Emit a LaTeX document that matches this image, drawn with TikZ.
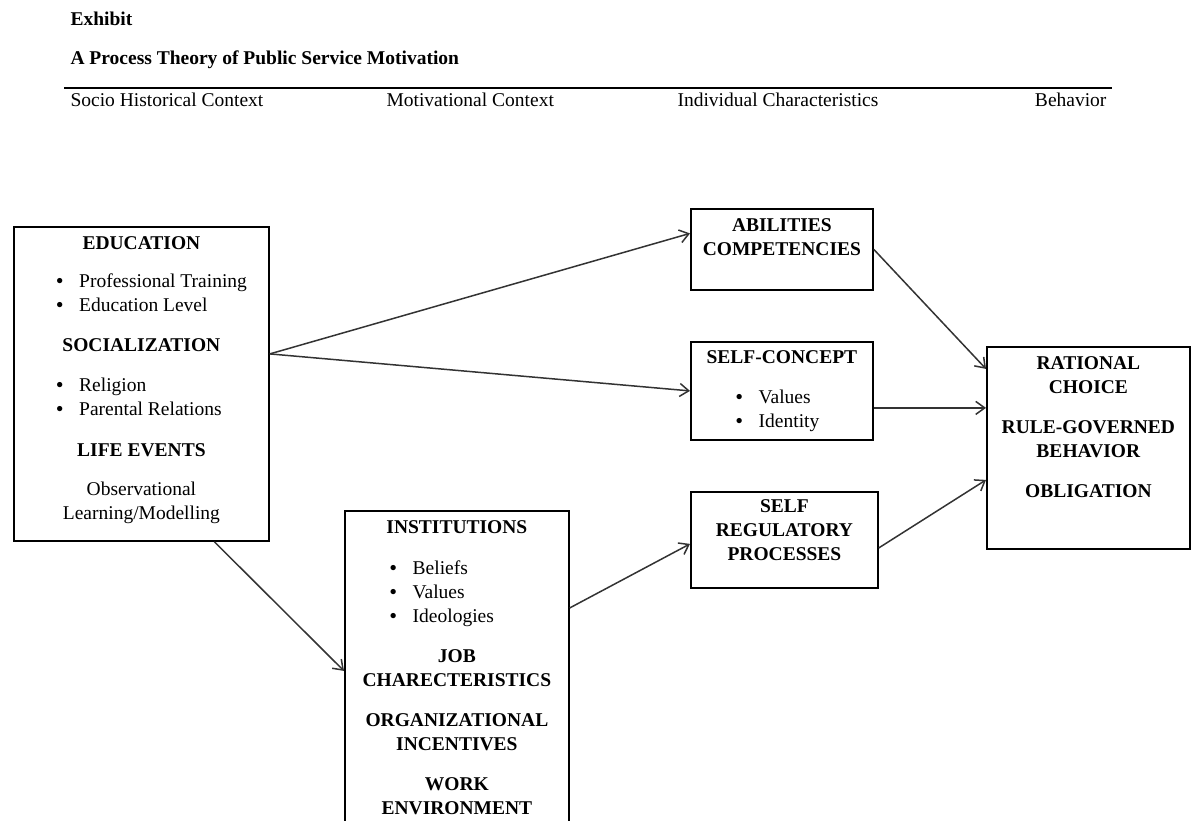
\documentclass[tikz,border=0pt]{standalone}
\usepackage{fontspec}
\setmainfont{Liberation Serif}
\usetikzlibrary{arrows.meta}
\newcommand{\bodyfont}{\fontsize{19.5}{24}\selectfont}
\newcommand{\bul}[2]{\makebox[#1][l]{\textbf{\textbullet}\hspace{16pt}#2}}
\begin{document}
\begin{tikzpicture}[x=1pt,y=-1pt,
    box/.style={draw, line width=1.8pt, anchor=north west, inner sep=0pt},
    txt/.style={anchor=north, inner sep=0pt, align=center, font=\bodyfont, yshift=-10pt},
    conn/.style={draw=black!80, line width=1.5pt, -{Straight Barb[length=9pt,width=13pt]}}]
    \useasboundingbox (0,0) rectangle (1195,820);
    \node[anchor=west, font=\bodyfont\bfseries] (exh) at (67,19) {Exhibit};
    \node[anchor=west, font=\bodyfont\bfseries] (title) at (67,60) {A Process Theory of Public Service Motivation};
    \draw[line width=1.8pt] (64,88) coordinate (rl) -- (1112,88) coordinate (rr);
    \node[anchor=west, font=\bodyfont] (h1) at (67,100) {Socio Historical Context};
    \node[anchor=west, font=\bodyfont] (h2) at (383,100) {Motivational Context};
    \node[anchor=west, font=\bodyfont] (h3) at (674,100) {Individual Characteristics};
    \node[anchor=east, font=\bodyfont] (h4) at (1110,100) {Behavior};

    \node[box, minimum width=255pt, minimum height=314pt] (edu) at (13,226) {};
    \node[txt] (edutxt) at (edu.north) {\textbf{EDUCATION}\\[14pt]
        \bul{170pt}{Professional Training}\\ \bul{170pt}{Education Level}\\[16pt]
        \textbf{SOCIALIZATION}\\[16pt]
        \bul{170pt}{Religion}\\ \bul{170pt}{Parental Relations}\\[17pt]
        \textbf{LIFE EVENTS}\\[15pt]
        Observational\\ Learning/Modelling};

    \node[box, minimum width=224pt, minimum height=330pt] (inst) at (344,510) {};
    \node[txt] (insttxt) at (inst.north) {\textbf{INSTITUTIONS}\\[17pt]
        \bul{134pt}{Beliefs}\\ \bul{134pt}{Values}\\ \bul{134pt}{Ideologies}\\[16pt]
        \textbf{JOB}\\ \textbf{CHARECTERISTICS}\\[16pt]
        \textbf{ORGANIZATIONAL}\\ \textbf{INCENTIVES}\\[16pt]
        \textbf{WORK}\\ \textbf{ENVIRONMENT}};

    \node[box, minimum width=182pt, minimum height=81pt] (abl) at (690,208) {};
    \node[txt] (abltxt) at (abl.north) {\textbf{ABILITIES}\\ \textbf{COMPETENCIES}};

    \node[box, minimum width=182pt, minimum height=98pt] (slf) at (690,341) {};
    \node[txt, yshift=1pt] (slftxt) at (slf.north) {\textbf{SELF-CONCEPT}\\[16pt]
        \bul{92pt}{Values}\\ \bul{92pt}{Identity}};

    \node[box, minimum width=187pt, minimum height=96pt] (srp) at (690,491) {};
    \node[txt, yshift=2pt] (srptxt) at (srp.north) {\textbf{SELF}\\ \textbf{REGULATORY}\\ \textbf{PROCESSES}};

    \node[box, minimum width=203pt, minimum height=202pt] (rat) at (986,346) {};
    \node[txt] (rattxt) at (rat.north) {\textbf{RATIONAL}\\ \textbf{CHOICE}\\[16pt]
        \textbf{RULE-GOVERNED}\\ \textbf{BEHAVIOR}\\[16pt]
        \textbf{OBLIGATION}};

    \draw[conn] ([yshift=30pt]edu.east) -- ([yshift=16pt]abl.west);
    \draw[conn] ([yshift=30pt]edu.east) -- (slf.west);
    \draw[conn] ([xshift=73pt]edu.south) -- ([yshift=5pt]inst.west);
    \draw[conn] ([yshift=68pt]inst.east) -- ([yshift=-4pt]srp.west);
    \draw[conn] (abl.east) -- ([yshift=79pt]rat.west);
    \draw[conn] ([yshift=-17pt]slf.east) -- ([yshift=-17pt]slf.east -| rat.west);
    \draw[conn] ([yshift=-8pt]srp.east) -- ([yshift=-32pt]rat.west);
\end{tikzpicture}
\end{document}
